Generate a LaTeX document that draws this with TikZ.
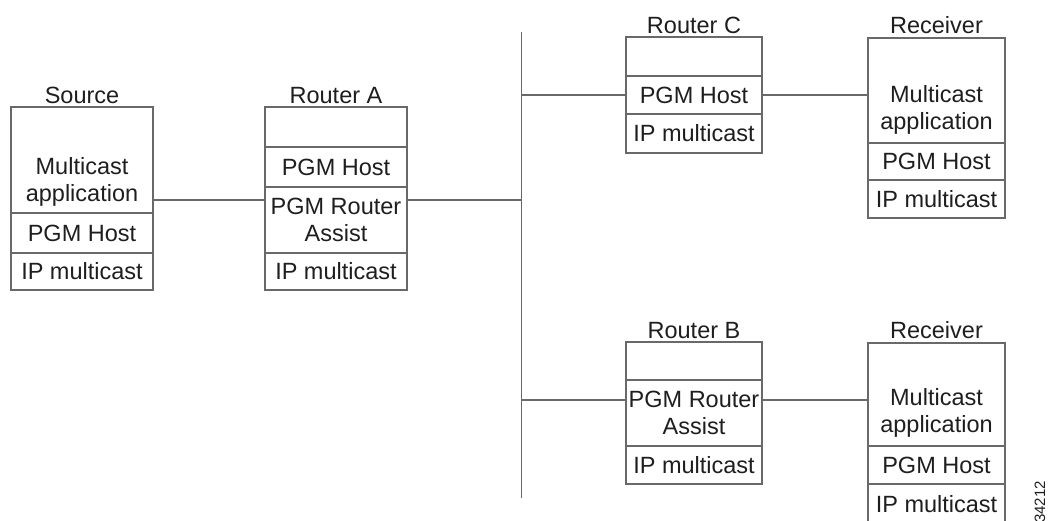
\documentclass[tikz,border=0pt]{standalone}
\usepackage{fontspec}
\setmainfont{Liberation Sans}
\usepackage{tikz}
\usetikzlibrary{positioning}

\definecolor{linegray}{RGB}{105,105,105}
\definecolor{textgray}{RGB}{30,30,30}

\tikzset{
  layer/.style={draw=linegray, line width=1.1pt, inner sep=0pt, outer sep=0pt,
    align=center, text=textgray},
  hdr/.style={inner sep=0pt, text=textgray},
  apptext/.style={inner sep=0pt, align=center, text=textgray},
  wire/.style={draw=linegray, line width=1.1pt}
}

\begin{document}
\begin{tikzpicture}[x=1pt,y=1pt,yscale=-1,xscale=1,
  font=\fontsize{23.5}{27}\selectfont]
\useasboundingbox (0,0) rectangle (1050,521);

% Source
\node[layer, anchor=north west, minimum width=142, minimum height=106] (srcapp) at (11,107) {};
\node[layer, below=0pt of srcapp, minimum width=142, minimum height=40] (srchost) {PGM Host};
\node[layer, below=0pt of srchost, minimum width=142, minimum height=37] (srcip) {IP multicast};
\node[apptext, above=6pt of srcapp.south] (srcapptxt) {Multicast\\application};
\node[hdr, above=3pt of srcapp] (srclbl) {Source};

% Router A
\node[layer, anchor=north west, minimum width=142, minimum height=40] (raempty) at (265,107) {};
\node[layer, below=0pt of raempty, minimum width=142, minimum height=40] (rahost) {PGM Host};
\node[layer, below=0pt of rahost, minimum width=142, minimum height=66] (raassist) {PGM Router\\Assist};
\node[layer, below=0pt of raassist, minimum width=142, minimum height=37] (raip) {IP multicast};
\node[hdr, above=3pt of raempty] (ralbl) {Router A};

% Router C
\node[layer, anchor=north west, minimum width=136, minimum height=39] (rcempty) at (626,37) {};
\node[layer, below=0pt of rcempty, minimum width=136, minimum height=38] (rchost) {PGM Host};
\node[layer, below=0pt of rchost, minimum width=136, minimum height=39] (rcip) {IP multicast};
\node[hdr, above=3pt of rcempty] (rclbl) {Router C};

% Receiver (top)
\node[layer, anchor=north west, minimum width=137, minimum height=105] (rxaapp) at (868,38) {};
\node[layer, below=0pt of rxaapp, minimum width=137, minimum height=37] (rxahost) {PGM Host};
\node[layer, below=0pt of rxahost, minimum width=137, minimum height=38] (rxaip) {IP multicast};
\node[apptext, above=8pt of rxaapp.south] (rxaapptxt) {Multicast\\application};
\node[hdr, above=4pt of rxaapp] (rxalbl) {Receiver};

% Router B
\node[layer, anchor=north west, minimum width=136, minimum height=38] (rbempty) at (626,342) {};
\node[layer, below=0pt of rbempty, minimum width=136, minimum height=66] (rbassist) {PGM Router\\Assist};
\node[layer, below=0pt of rbassist, minimum width=136, minimum height=38] (rbip) {IP multicast};
\node[hdr, above=3pt of rbempty] (rblbl) {Router B};

% Receiver (bottom)
\node[layer, anchor=north west, minimum width=137, minimum height=103] (rxbapp) at (868,343) {};
\node[layer, below=0pt of rxbapp, minimum width=137, minimum height=38] (rxbhost) {PGM Host};
\node[layer, below=0pt of rxbhost, minimum width=137, minimum height=40] (rxbip) {IP multicast};
\node[apptext, above=8pt of rxbapp.south] (rxbapptxt) {Multicast\\application};
\node[hdr, above=4pt of rxbapp] (rxblbl) {Receiver};

% LAN segment
\coordinate (bustop) at (521.5,32);
\coordinate (busbot) at (521.5,498);
\draw[wire] (bustop) -- (busbot);

% Links (yshift follows yscale=-1 here: positive is downward)
\draw[wire] ([yshift=40pt]srcapp.east) -- ([yshift=-20pt]raassist.west);
\draw[wire] ([yshift=-20pt]raassist.east) coordinate (raout) -- (raout -| bustop);
\draw[wire] (rchost.west -| bustop) -- (rchost.west);
\draw[wire] (rchost.east) -- (rchost.east -| rxaapp.west);
\draw[wire] ([yshift=-13pt]rbassist.west) coordinate (rbin) -- (rbin -| bustop);
\draw[wire] ([yshift=-13pt]rbassist.east) coordinate (rbout) -- (rbout -| rxbapp.west);

% Figure number
\node[rotate=90, text=textgray, font=\fontsize{15}{17}\selectfont, inner sep=0pt] (figno) at (1040,502) {34212};

\end{tikzpicture}
\end{document}
